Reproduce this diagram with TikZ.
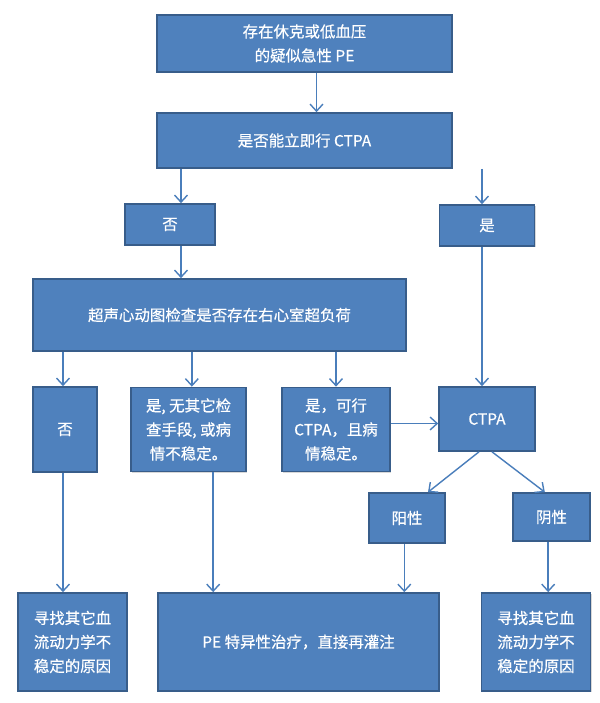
\documentclass[tikz,border=0pt]{standalone}
\usepackage{fontspec}
\setmainfont{Noto Sans CJK SC}[FakeBold=0.5]
\usetikzlibrary{arrows.meta,shadows}
\definecolor{boxblue}{HTML}{4F81BD}
\definecolor{boxedge}{HTML}{385D8A}
\definecolor{linkblue}{HTML}{4A7EBB}
\tikzset{
  box/.style={draw=boxedge, line width=1.4pt, fill=boxblue, text=white,
    align=center, inner sep=2pt, font=\fontsize{13.2}{20.5}\selectfont,
    drop shadow={shadow xshift=1.2pt, shadow yshift=-1.2pt, opacity=0.3}},
  sz/.style n args={2}{minimum width=#1*0.03cm, minimum height=#2*0.03cm},
  arr/.style={draw=linkblue, line width=1.2pt, -{Straight Barb[length=6pt,width=11pt]}},
}
\begin{document}
\begin{tikzpicture}[x=0.03cm, y=-0.03cm]
        \fill[white] (0,0) rectangle (600,703);

        % top of the chart
        \node[box, sz={295}{57}] (shock) at (304.5,43.5) {存在休克或低血压\\的疑似急性 PE};
        \node[box, sz={295}{55}] (ctpaq) at (304.5,140.5) {是否能立即行 CTPA};

        % first answers
        \node[box, sz={90}{41}] (no1) at (170,224.5) {否};
        \node[box, sz={95}{41}] (yes1) at (487,225.5) {是};

        % echo
        \node[box, sz={373}{72}] (echo) at (219.5,315) {超声心动图检查是否存在右心室超负荷};

        % second row
        \node[box, sz={64}{85}] (no2) at (65,429.5) {否};
        \node[box, sz={115}{84}] (yesunst) at (188.5,429.5) {是, 无其它检\\查手段, 或病\\情不稳定。};
        \node[box, sz={108}{84}] (yesstab) at (336,429.5) {是，可行\\CTPA，且病\\情稳定。};
        \node[box, sz={96}{64}] (ctpa) at (487,419) {CTPA};

        % CTPA results
        \node[box, sz={76}{50}] (pos) at (407,518) {阳性};
        \node[box, sz={77}{48}] (neg) at (551.5,517) {阴性};

        % bottom row
        \node[box, sz={109}{98}] (otherl) at (72.5,642) {寻找其它血\\流动力学不\\稳定的原因};
        \node[box, sz={281}{98}] (treat) at (298.5,642) {PE 特异性治疗，直接再灌注};
        \node[box, sz={109}{98}] (otherr) at (536,642) {寻找其它血\\流动力学不\\稳定的原因};

        % arrows
        \draw[arr] ([xshift=0.36cm]shock.south) -- ([xshift=0.36cm]ctpaq.north);
        \draw[arr] ([xshift=0.33cm]no1.north |- ctpaq.south) -- ([xshift=0.33cm]no1.north);
        \draw[arr] ([xshift=-0.15cm]yes1.north |- ctpaq.south) -- ([xshift=-0.15cm]yes1.north);
        \draw[arr] ([xshift=0.33cm]no1.south) -- ([xshift=0.33cm]no1.south |- echo.north);
        \draw[arr] ([xshift=-0.06cm]no2.north |- echo.south) -- ([xshift=-0.06cm]no2.north);
        \draw[arr] ([xshift=0.1cm]yesunst.north |- echo.south) -- ([xshift=0.1cm]yesunst.north);
        \draw[arr] (yesstab.north |- echo.south) -- (yesstab.north);
        \draw[arr] ([xshift=-0.15cm]yes1.south) -- ([xshift=-0.15cm]ctpa.north);
        \draw[arr] ([yshift=0.18cm]yesstab.east) -- ([yshift=0.18cm]yesstab.east -| ctpa.west);
        \draw[arr] ([xshift=-0.24cm]ctpa.south) -- ([xshift=0.63cm]pos.north);
        \draw[arr] ([xshift=0.15cm]ctpa.south) -- ([xshift=-0.2cm]neg.north);
        \draw[arr] ([xshift=-0.06cm]no2.south) -- ([xshift=-0.06cm]no2.south |- otherl.north);
        \draw[arr] ([xshift=0.74cm]yesunst.south) -- ([xshift=0.74cm]yesunst.south |- treat.north);
        \draw[arr] ([xshift=-0.08cm]pos.south) -- ([xshift=-0.08cm]pos.south |- treat.north);
        \draw[arr] ([xshift=-0.1cm]neg.south) -- ([xshift=-0.1cm]neg.south |- otherr.north);

     \end{tikzpicture}
\end{document}
